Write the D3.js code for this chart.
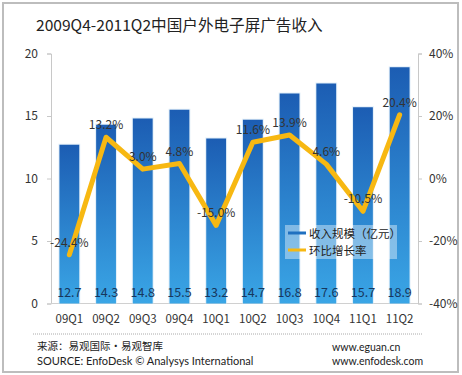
<!DOCTYPE html>
<html><head><meta charset="utf-8">
<script src="https://cdn.jsdelivr.net/npm/d3@7"></script>
<style>body{margin:0;background:#fff}svg{display:block}</style>
</head><body>
<script>
const categories = ["09Q1","09Q2","09Q3","09Q4","10Q1","10Q2","10Q3","10Q4","11Q1","11Q2"];
const revenue = [12.7,14.3,14.8,15.5,13.2,14.7,16.8,17.6,15.7,18.9];
const growth = [-24.4,13.2,3.0,4.8,-15.0,11.6,13.9,4.6,-10.5,20.4];
const leftTicks = [0,5,10,15,20];
const rightTicks = [-40,-20,0,20,40];

const W=462,H=375;
const svg=d3.select("body").append("svg").attr("width",W).attr("height",H);
const font="'Noto Sans CJK SC','Noto Sans',sans-serif";
const latin="Lato,'Noto Sans',sans-serif";

svg.append("rect").attr("x",3).attr("y",3).attr("width",455).attr("height",369)
  .attr("fill","#fff").attr("stroke","#bdbdbd").attr("stroke-width",2);

svg.append("text").attr("x",36).attr("y",31).attr("font-family",font).attr("font-size",15.6)
  .attr("fill","#222").text("2009Q4-2011Q2中国户外电子屏广告收入");

const x0=51,x1=418,yTop=53.5,yBot=303.5;
const x=d3.scaleBand().domain(categories).range([x0,x1]).paddingInner(0.46).paddingOuter(0.23);
const yL=d3.scaleLinear().domain([0,20]).range([yBot,yTop]);
const yR=d3.scaleLinear().domain([-40,40]).range([yBot,yTop]);

const defs=svg.append("defs");
const g=defs.append("linearGradient").attr("id","bg").attr("x1",0).attr("y1",0).attr("x2",0).attr("y2",1);
g.append("stop").attr("offset","0%").attr("stop-color","#1c5db3");
g.append("stop").attr("offset","100%").attr("stop-color","#3aa6e6");

// axes
const axL=svg.append("g").attr("transform",`translate(${x0},0)`).call(d3.axisLeft(yL).tickValues(leftTicks).tickSize(4).tickPadding(9));
const axR=svg.append("g").attr("transform",`translate(${x1},0)`).call(d3.axisRight(yR).tickValues(rightTicks).tickFormat(d=>d+"%").tickSize(4).tickPadding(7));
[axL,axR].forEach(a=>{
  a.selectAll("path,line").attr("stroke","#c8c8c8");
  a.selectAll("text").attr("font-family",font).attr("font-size",12).attr("fill","#333");
});
svg.append("line").attr("x1",x0).attr("x2",x1).attr("y1",yBot).attr("y2",yBot).attr("stroke","#d0d0d0");

// bars
svg.append("g").selectAll("rect").data(categories).join("rect")
  .attr("x",d=>x(d)-1).attr("width",x.bandwidth()+2)
  .attr("y",(d,i)=>yL(revenue[i])-1).attr("height",(d,i)=>yBot-yL(revenue[i])+1)
  .attr("fill","#d6e8f7").attr("opacity",0.7);
svg.append("g").selectAll("rect").data(categories).join("rect")
  .attr("x",d=>x(d)).attr("width",x.bandwidth())
  .attr("y",(d,i)=>yL(revenue[i])).attr("height",(d,i)=>yBot-yL(revenue[i]))
  .attr("fill","url(#bg)");

// bar value labels
svg.append("g").selectAll("text").data(categories).join("text")
  .attr("x",d=>x(d)+x.bandwidth()/2).attr("y",297).attr("text-anchor","middle")
  .attr("font-family",font).attr("font-size",12.5).attr("fill","#17375e")
  .text((d,i)=>revenue[i].toFixed(1));

// line
const line=d3.line().x((d,i)=>x(categories[i])+x.bandwidth()/2).y(d=>yR(d));
svg.append("path").datum(growth).attr("d",line).attr("fill","none")
  .attr("stroke","#f7b812").attr("stroke-width",5).attr("stroke-linejoin","round").attr("stroke-linecap","round");

// line labels
svg.append("g").selectAll("text").data(growth).join("text")
  .attr("x",(d,i)=>x(categories[i])+x.bandwidth()/2).attr("y",d=>yR(d)-8)
  .attr("text-anchor","middle").attr("font-family",font).attr("font-size",12).attr("fill","#333")
  .text(d=>d.toFixed(1)+"%");

// x labels
svg.append("g").selectAll("text").data(categories).join("text")
  .attr("x",d=>x(d)+x.bandwidth()/2).attr("y",323).attr("text-anchor","middle")
  .attr("font-family",font).attr("font-size",11.5).attr("fill","#333").text(d=>d);

// legend
const lg=svg.append("g");
lg.append("rect").attr("x",285).attr("y",225).attr("width",112).attr("height",34).attr("fill","#fff").attr("opacity",0.4);
lg.append("line").attr("x1",288).attr("x2",306).attr("y1",233).attr("y2",233).attr("stroke","#2070c0").attr("stroke-width",3);
lg.append("line").attr("x1",288).attr("x2",306).attr("y1",250).attr("y2",250).attr("stroke","#f7b812").attr("stroke-width",3);
lg.append("text").attr("x",309).attr("y",237.5).attr("font-family",font).attr("font-size",11.5).attr("fill","#222").text("收入规模（亿元）");
lg.append("text").attr("x",309).attr("y",254.5).attr("font-family",font).attr("font-size",11.5).attr("fill","#222").text("环比增长率");

// footer
svg.append("line").attr("x1",33).attr("x2",423).attr("y1",334).attr("y2",334).attr("stroke","#aaa").attr("stroke-dasharray","1,1");
const ft=[["来源：易观国际·易观智库",37,350,font,10.5],["SOURCE: EnfoDesk © Analysys International",37,365,latin,11],["www.eguan.cn",332,351,latin,10.5],["www.enfodesk.com",332,365,latin,10.5]];
svg.append("g").selectAll("text").data(ft).join("text")
  .attr("x",d=>d[1]).attr("y",d=>d[2]).attr("font-family",d=>d[3]).attr("font-size",d=>d[4]).attr("fill","#222").text(d=>d[0]);
</script>
</body></html>
